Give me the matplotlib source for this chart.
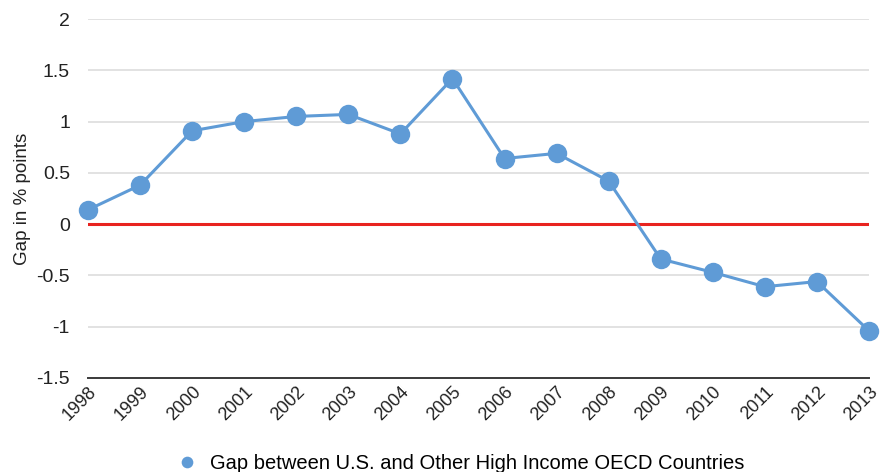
import matplotlib.pyplot as plt

plt.rcParams['font.family'] = ['Liberation Sans', 'DejaVu Sans']

years = ['1998', '1999', '2000', '2001', '2002', '2003', '2004', '2005',
         '2006', '2007', '2008', '2009', '2010', '2011', '2012', '2013']
gap = [0.14, 0.38, 0.91, 1.00, 1.05, 1.07, 0.88, 1.42,
       0.64, 0.69, 0.42, -0.34, -0.47, -0.61, -0.56, -1.04]
yticks = [-1.5, -1, -0.5, 0, 0.5, 1, 1.5, 2]
ytick_labels = ['-1.5', '-1', '-0.5', '0', '0.5', '1', '1.5', '2']

blue = '#5f9bd6'

fig = plt.figure(figsize=(8.91, 4.72), dpi=100)
ax = fig.add_axes([0.0988, 0.1992, 0.8765, 0.7605])

x = list(range(len(years)))
ax.set_xlim(0, len(years) - 1)
ax.set_ylim(-1.5, 2)

# grid lines
for t in yticks[1:]:
    ax.axhline(t, color='#e2e2e2', lw=1.4, zorder=0)

# zero reference line
ax.axhline(0, color='#e8231f', lw=2.2, zorder=1)

ax.plot(x, gap, color=blue, lw=2.2, marker='o', markersize=14,
        markeredgewidth=0, clip_on=False, zorder=3,
        label='Gap between U.S. and Other High Income OECD Countries')

for s in ['top', 'right', 'left']:
    ax.spines[s].set_visible(False)
ax.spines['bottom'].set_color('#3a3a3a')
ax.spines['bottom'].set_linewidth(1.4)

ax.set_yticks(yticks)
ax.set_yticklabels(ytick_labels, fontsize=14)
ax.set_xticks(x)
ax.set_xticklabels(years, fontsize=13, rotation=45, ha='right',
                   rotation_mode='anchor')
ax.tick_params(axis='both', length=0, colors='#222222')
ax.tick_params(axis='y', pad=13)
ax.tick_params(axis='x', pad=4)

ax.set_ylabel('Gap in % points', fontsize=13.5, color='#222222', labelpad=4)

leg = fig.legend(handles=ax.get_lines()[-1:], loc='center',
                 bbox_to_anchor=(0.517, 0.018), frameon=False, fontsize=14.5,
                 handlelength=1.0, handletextpad=0.6, markerscale=0.6)
for h in leg.legend_handles:
    h.set_linestyle('none')

fig.savefig('out.png', dpi=100)
